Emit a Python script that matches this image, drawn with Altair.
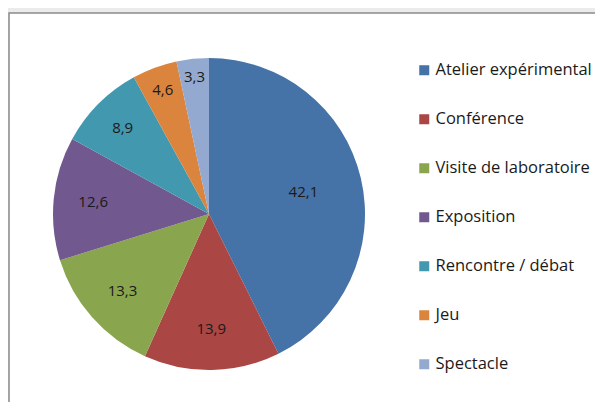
import altair as alt
import pandas as pd

categories = ["Atelier expérimental", "Conférence", "Visite de laboratoire",
              "Exposition", "Rencontre / débat", "Jeu", "Spectacle"]
values = [42.1, 13.9, 13.3, 12.6, 8.9, 4.6, 3.3]
colors = ["#4572a7", "#aa4643", "#89a54e", "#71588f", "#4198af", "#db843d", "#93a9cf"]

df = pd.DataFrame({"cat": categories, "value": values, "idx": list(range(len(values)))})

CX, CY, R = 201, 206, 156
FONT = "Open Sans"

frame = alt.Chart(alt.Data(values=[{"a": 1}])).mark_rect(
    fill="white", stroke="#8a8a8a", strokeWidth=1.5
).encode(x=alt.value(1), x2=alt.value(700), y=alt.value(5), y2=alt.value(600))

base = alt.Chart(df).encode(
    theta=alt.Theta("value:Q", stack=True),
    order=alt.Order("idx:Q"),
)

pie = base.mark_arc(outerRadius=R, strokeWidth=0).encode(
    color=alt.Color(
        "cat:N",
        scale=alt.Scale(domain=categories, range=colors),
        sort=categories,
        legend=alt.Legend(
            title=None, orient="none", legendX=408, legendY=54,
            symbolType="square", symbolSize=100, symbolStrokeWidth=0,
            labelFont=FONT, labelFontSize=16.5, labelColor="#1a1a1a",
            rowPadding=32, labelOffset=3, labelLimit=300,
        ),
    ),
    x=alt.value(CX), y=alt.value(CY),
)

labels = base.mark_text(font=FONT, fontSize=15, color="#1a1a1a").transform_calculate(
    label="replace(format(datum.value, '.1f'), '.', ',')"
).encode(
    text="label:N",
    radius=alt.Radius("value:Q", scale=alt.Scale(type="log", domain=[3.3, 42.1], range=[138, 97], zero=False)),
    x=alt.value(CX), y=alt.value(CY),
)

chart = alt.layer(frame, pie, labels).properties(
    width=587, height=394,
    autosize=alt.AutoSizeParams(type="none"),
    padding=0,
    background="#ebebeb",
).resolve_scale(theta="shared").configure_view(stroke=None)

chart.save("out.html", embed_options={"renderer": "svg", "actions": False})
